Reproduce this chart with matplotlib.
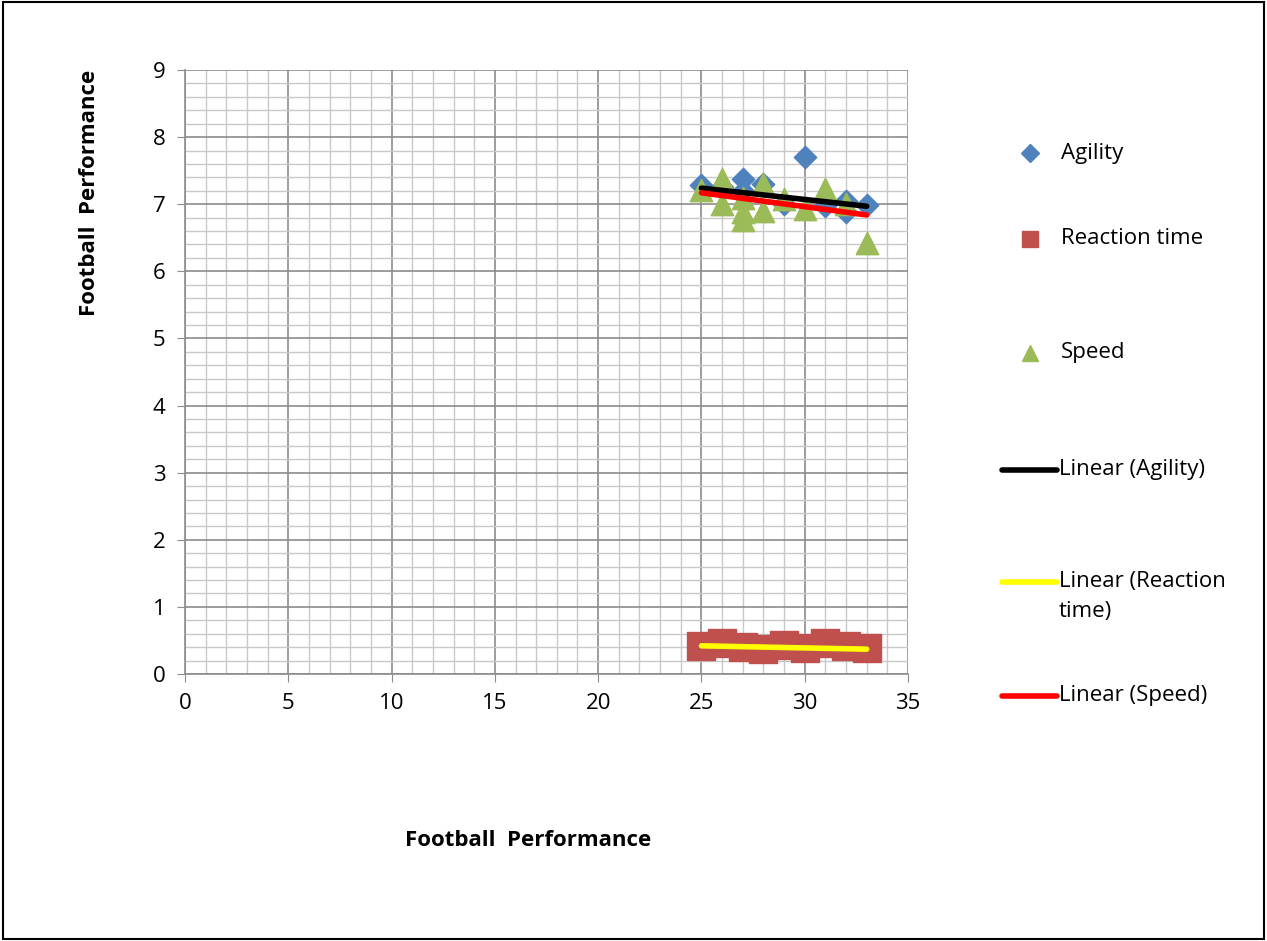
import numpy as np
import matplotlib.pyplot as plt
from matplotlib.ticker import MultipleLocator
from matplotlib.patches import Rectangle
from matplotlib.lines import Line2D

plt.rcParams["font.family"] = ["Open Sans", "DejaVu Sans"]

# ----------------------------
# Data
# ----------------------------
agility_x = [25, 26, 27, 27, 28, 29, 30, 31, 32, 32, 33]
agility_y = [7.28, 7.26, 7.38, 7.2, 7.3, 7.0, 7.7, 6.98, 6.88, 7.05, 6.99]

reaction_x = [25, 26, 27, 28, 29, 30, 31, 32, 33]
reaction_y = [0.42, 0.46, 0.40, 0.37, 0.43, 0.38, 0.46, 0.42, 0.38]

speed_x = [25, 26, 26, 27, 27, 27, 28, 28, 29, 30, 31, 32, 33]
speed_y = [7.21, 7.38, 7.0, 7.1, 6.89, 6.77, 7.3, 6.9, 7.08, 6.93, 7.22, 7.0, 6.42]

# trend lines as drawn by the spreadsheet (start / end values)
trend_x = [25, 33]
agility_trend = [7.24, 6.97]
reaction_trend = [0.42, 0.37]
speed_trend = [7.17, 6.84]

BLUE = "#4F81BD"
RED = "#C0504D"
GREEN = "#9BBB59"
FS = 16

W, H = 1267, 941
fig = plt.figure(figsize=(W / 100, H / 100), dpi=100)
ax = fig.add_axes([185 / W, 1 - 674 / H, 723 / W, 604 / H])

# page border
fig.patches.append(Rectangle((0.002, 0.002), 0.996, 0.996, transform=fig.transFigure,
                             fill=False, edgecolor="black", linewidth=1.5))

ax.scatter(agility_x, agility_y, marker="D", s=130, color=BLUE, zorder=3)
ax.scatter(reaction_x, reaction_y, marker="s", s=420, color=RED, zorder=3)
ax.scatter(speed_x, speed_y, marker="^", s=260, color=GREEN, zorder=3)

ax.plot(trend_x, agility_trend, color="black", linewidth=4, solid_capstyle="round", zorder=4)
ax.plot(trend_x, reaction_trend, color="yellow", linewidth=4, solid_capstyle="round", zorder=4)
ax.plot(trend_x, speed_trend, color="red", linewidth=4, solid_capstyle="round", zorder=4)

ax.set_xlim(0, 35)
ax.set_ylim(0, 9)
ax.xaxis.set_major_locator(MultipleLocator(5))
ax.xaxis.set_minor_locator(MultipleLocator(1))
ax.yaxis.set_major_locator(MultipleLocator(1))
ax.yaxis.set_minor_locator(MultipleLocator(0.2))
ax.grid(which="major", color="#8c8c8c", linewidth=1.2)
ax.grid(which="minor", color="#c8c8c8", linewidth=1.0)
ax.set_axisbelow(True)
for side in ["top", "right"]:
    ax.spines[side].set_visible(False)
for side in ["left", "bottom"]:
    ax.spines[side].set_color("#8c8c8c")
    ax.spines[side].set_linewidth(1.2)
ax.tick_params(which="major", length=6, color="#8c8c8c", labelsize=FS, pad=8)
ax.tick_params(which="minor", length=0)

ax.set_xlabel("Football  Performance", fontsize=FS, fontweight="bold")
ax.set_ylabel("Football  Performance", fontsize=FS, fontweight="bold")
ax.xaxis.set_label_coords((528 - 185) / 723, (674 - 840) / 604)
ax.yaxis.set_label_coords((90 - 185) / 723, (674 - 193) / 604)
ax.xaxis.label.set_va("center")
ax.yaxis.label.set_va("center")

# ----------------------------
# Legend (spread out like the original)
# ----------------------------
def fx(px):
    return px / W


def fy(py):
    return 1 - py / H


entries = [
    ("marker", "D", BLUE, 9, 153, "Agility"),
    ("marker", "s", RED, 12, 239, "Reaction time"),
    ("marker", "^", GREEN, 12, 353, "Speed"),
    ("line", None, "black", None, 470, "Linear (Agility)"),
    ("line", None, "yellow", None, 582, "Linear (Reaction"),
    ("line", None, "red", None, 696, "Linear (Speed)"),
]
for kind, mk, col, ms, py, text in entries:
    if kind == "marker":
        fig.add_artist(Line2D([fx(1030)], [fy(py)], marker=mk, color=col,
                              markersize=ms, linestyle="none"))
        fig.text(fx(1061), fy(py), text, fontsize=FS, va="center", ha="left")
    else:
        fig.add_artist(Line2D([fx(1002), fx(1057)], [fy(py), fy(py)], color=col,
                              linewidth=4, solid_capstyle="round"))
        fig.text(fx(1059), fy(py), text, fontsize=FS, va="center", ha="left")
fig.text(fx(1059), fy(612), "time)", fontsize=FS, va="center", ha="left")

plt.savefig("out.png", dpi=100)
